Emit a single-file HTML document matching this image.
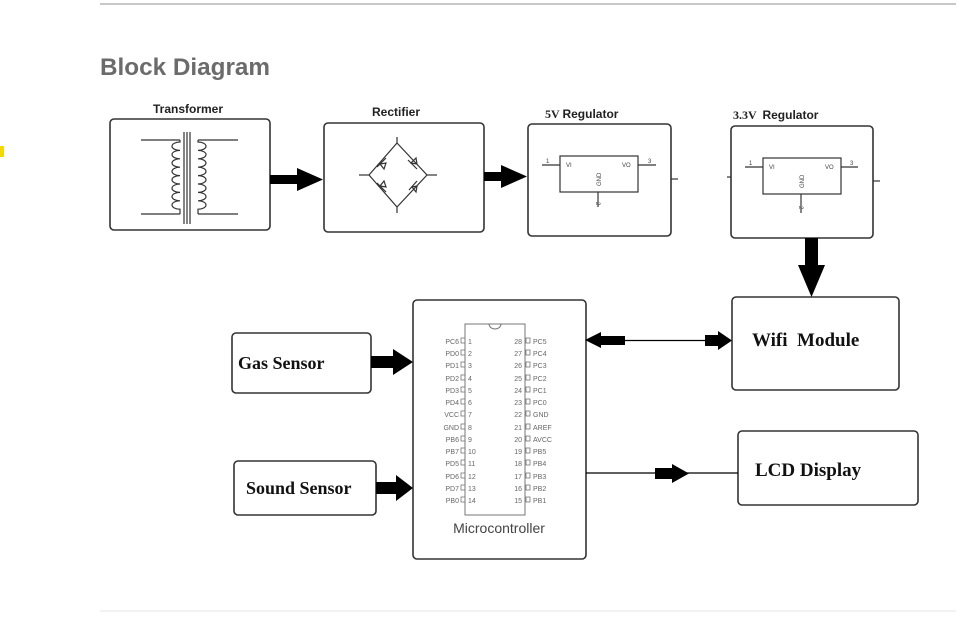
<!DOCTYPE html>
<html><head><meta charset="utf-8"><style>
html,body{margin:0;padding:0;background:#fff;}
svg{display:block;font-family:"Liberation Sans",sans-serif;}
</style></head><body>
<svg width="977" height="626" viewBox="0 0 977 626" xmlns="http://www.w3.org/2000/svg">
<line x1="100" y1="4" x2="956" y2="4" stroke="#c8c8c8" stroke-width="2"/>
<line x1="100" y1="611" x2="956" y2="611" stroke="#e6e6e6" stroke-width="1"/>
<rect x="0" y="146" width="4" height="11" fill="#f5d800"/>
<text x="100" y="75" font-size="24" font-weight="bold" fill="#6b6b6b" textLength="170" lengthAdjust="spacingAndGlyphs">Block Diagram</text>

<g fill="none" stroke="#333" stroke-width="1.6">
<rect x="110" y="119" width="160" height="111" rx="4"/>
<rect x="324" y="123" width="160" height="109" rx="4"/>
<rect x="528" y="124" width="143" height="112" rx="4"/>
<rect x="731" y="126" width="142" height="112" rx="4"/>
<rect x="732" y="297" width="167" height="93" rx="4"/>
<rect x="738" y="431" width="180" height="74" rx="4"/>
<rect x="413" y="300" width="173" height="259" rx="4"/>
<rect x="232" y="333" width="139" height="60" rx="4"/>
<rect x="234" y="461" width="142" height="54" rx="4"/>
</g>
<g font-weight="bold" fill="#222" font-size="12" text-anchor="middle">
<text x="188" y="113">Transformer</text>
<text x="396" y="116">Rectifier</text>
</g>
<text x="545" y="118" font-family="Liberation Serif,serif" font-weight="bold" font-size="12" fill="#222">5V <tspan font-family="Liberation Sans,sans-serif">Regulator</tspan></text>
<text x="733" y="119" font-family="Liberation Serif,serif" font-weight="bold" font-size="12" fill="#222">3.3V <tspan font-family="Liberation Sans,sans-serif" dx="3">Regulator</tspan></text>

<!-- transformer -->
<g fill="none" stroke="#333" stroke-width="1.2">
<line x1="141" y1="140" x2="180" y2="140"/><line x1="141" y1="214" x2="180" y2="214"/>
<line x1="198" y1="140" x2="238" y2="140"/><line x1="198" y1="214" x2="238" y2="214"/>
<path d="M180 140 l0 2 a8 4.2 0 0 0 0 8.4 a8 4.2 0 0 0 0 8.4 a8 4.2 0 0 0 0 8.4 a8 4.2 0 0 0 0 8.4 a8 4.2 0 0 0 0 8.4 a8 4.2 0 0 0 0 8.4 a8 4.2 0 0 0 0 8.4 a8 4.2 0 0 0 0 8.4 L180 214" transform="translate(0,0)"/>
<path d="M198 140 l0 2 a8 4.2 0 0 1 0 8.4 a8 4.2 0 0 1 0 8.4 a8 4.2 0 0 1 0 8.4 a8 4.2 0 0 1 0 8.4 a8 4.2 0 0 1 0 8.4 a8 4.2 0 0 1 0 8.4 a8 4.2 0 0 1 0 8.4 a8 4.2 0 0 1 0 8.4 L198 214"/>
<line x1="184" y1="132" x2="184" y2="224"/><line x1="187" y1="132" x2="187" y2="224"/><line x1="190" y1="132" x2="190" y2="224"/>
</g>
<!-- rectifier -->
<g fill="none" stroke="#333" stroke-width="1.2">
<path d="M397 143 L427 175 L397 207 L369 175 Z"/>
<line x1="397" y1="137" x2="397" y2="143"/><line x1="397" y1="207" x2="397" y2="213"/>
<line x1="359" y1="175" x2="369" y2="175"/><line x1="427" y1="175" x2="437" y2="175"/>
<path d="M380 164 l6 -1 l-2 6 z M377 167 l9 -9"/>
<path d="M411 163 l6 1 l-1 -6 z M408 160 l9 9"/>
<path d="M380 186 l6 1 l-2 -6 z M377 183 l9 9"/>
<path d="M412 187 l5 -1 l-1 6 z M409 190 l8 -9"/>
</g>
<!-- regulators -->
<g fill="none" stroke="#333" stroke-width="1.2">
<rect x="560" y="156" width="78" height="36"/>
<line x1="542" y1="165" x2="560" y2="165"/><line x1="638" y1="165" x2="656" y2="165"/><line x1="598" y1="192" x2="598" y2="207"/>
<rect x="763" y="158" width="78" height="36"/>
<line x1="745" y1="167" x2="763" y2="167"/><line x1="841" y1="167" x2="858" y2="167"/><line x1="801" y1="194" x2="801" y2="213"/>
<line x1="671" y1="179" x2="678" y2="179"/><line x1="873" y1="181" x2="880" y2="181"/><line x1="727" y1="177" x2="731" y2="177"/>
</g>
<g font-size="6" fill="#444">
<text x="546" y="163">1</text><text x="566" y="167">VI</text><text x="622" y="167">VO</text><text x="648" y="163">3</text>
<text x="601" y="186" transform="rotate(-90 601 186)">GND</text><text x="596" y="202" transform="rotate(90 596 202)">2</text>
<text x="749" y="165">1</text><text x="769" y="169">VI</text><text x="825" y="169">VO</text><text x="850" y="165">3</text>
<text x="804" y="188" transform="rotate(-90 804 188)">GND</text><text x="799" y="206" transform="rotate(90 799 206)">2</text>
</g>

<!-- arrows -->
<g fill="#000">
<rect x="270" y="175" width="28" height="9"/><path d="M297 168 L323 179.5 L297 191 Z"/>
<rect x="484" y="172" width="18" height="9"/><path d="M501 165 L527 176.5 L501 188 Z"/>
<rect x="805" y="238" width="13" height="28"/><path d="M798 265 L825 265 L811.5 297 Z"/>
<rect x="371" y="356" width="23" height="12"/><path d="M393 349 L413 362 L393 375 Z"/>
<rect x="376" y="482" width="21" height="12"/><path d="M396 475 L413 488 L396 501 Z"/>
<path d="M585 340 L601 332 L601 348 Z"/><rect x="600" y="336" width="25" height="9"/>
<rect x="705" y="335" width="14" height="11"/><path d="M718 331 L732 340.5 L718 350 Z"/>
<rect x="655" y="468" width="18" height="11"/><path d="M672 464 L689 473.5 L672 483 Z"/>
</g>
<line x1="600" y1="340.5" x2="720" y2="340.5" stroke="#000" stroke-width="1.2"/>
<line x1="586" y1="473" x2="738" y2="473" stroke="#000" stroke-width="1.2"/>

<g font-family="Liberation Serif,serif" font-weight="bold" fill="#111">
<text x="752" y="346" font-size="19">Wifi&#160; Module</text>
<text x="755" y="476" font-size="19">LCD Display</text>
<text x="238" y="369" font-size="18">Gas Sensor</text>
<text x="246" y="494" font-size="18">Sound Sensor</text>
</g>

<!-- chip -->
<rect x="465" y="324" width="60" height="191" fill="none" stroke="#777" stroke-width="1"/>
<path d="M489 324 a6 5 0 0 0 12 0" fill="none" stroke="#777"/>
<g font-size="7" fill="#666">
<g text-anchor="end">
<text x="459" y="344">PC6</text><text x="459" y="356">PD0</text><text x="459" y="368">PD1</text><text x="459" y="381">PD2</text><text x="459" y="393">PD3</text><text x="459" y="405">PD4</text><text x="459" y="417">VCC</text><text x="459" y="430">GND</text><text x="459" y="442">PB6</text><text x="459" y="454">PB7</text><text x="459" y="466">PD5</text><text x="459" y="479">PD6</text><text x="459" y="491">PD7</text><text x="459" y="503">PB0</text>
<text x="522" y="344">28</text><text x="522" y="356">27</text><text x="522" y="368">26</text><text x="522" y="381">25</text><text x="522" y="393">24</text><text x="522" y="405">23</text><text x="522" y="417">22</text><text x="522" y="430">21</text><text x="522" y="442">20</text><text x="522" y="454">19</text><text x="522" y="466">18</text><text x="522" y="479">17</text><text x="522" y="491">16</text><text x="522" y="503">15</text>
</g>
<text x="468" y="344">1</text><text x="468" y="356">2</text><text x="468" y="368">3</text><text x="468" y="381">4</text><text x="468" y="393">5</text><text x="468" y="405">6</text><text x="468" y="417">7</text><text x="468" y="430">8</text><text x="468" y="442">9</text><text x="468" y="454">10</text><text x="468" y="466">11</text><text x="468" y="479">12</text><text x="468" y="491">13</text><text x="468" y="503">14</text>
<text x="533" y="344">PC5</text><text x="533" y="356">PC4</text><text x="533" y="368">PC3</text><text x="533" y="381">PC2</text><text x="533" y="393">PC1</text><text x="533" y="405">PC0</text><text x="533" y="417">GND</text><text x="533" y="430">AREF</text><text x="533" y="442">AVCC</text><text x="533" y="454">PB5</text><text x="533" y="466">PB4</text><text x="533" y="479">PB3</text><text x="533" y="491">PB2</text><text x="533" y="503">PB1</text>
</g>
<g fill="none" stroke="#777" stroke-width="0.8">
<rect x="461" y="338" width="4" height="5"/><rect x="461" y="350" width="4" height="5"/><rect x="461" y="362" width="4" height="5"/><rect x="461" y="375" width="4" height="5"/><rect x="461" y="387" width="4" height="5"/><rect x="461" y="399" width="4" height="5"/><rect x="461" y="411" width="4" height="5"/><rect x="461" y="424" width="4" height="5"/><rect x="461" y="436" width="4" height="5"/><rect x="461" y="448" width="4" height="5"/><rect x="461" y="460" width="4" height="5"/><rect x="461" y="473" width="4" height="5"/><rect x="461" y="485" width="4" height="5"/><rect x="461" y="497" width="4" height="5"/>
<rect x="526" y="338" width="4" height="5"/><rect x="526" y="350" width="4" height="5"/><rect x="526" y="362" width="4" height="5"/><rect x="526" y="375" width="4" height="5"/><rect x="526" y="387" width="4" height="5"/><rect x="526" y="399" width="4" height="5"/><rect x="526" y="411" width="4" height="5"/><rect x="526" y="424" width="4" height="5"/><rect x="526" y="436" width="4" height="5"/><rect x="526" y="448" width="4" height="5"/><rect x="526" y="460" width="4" height="5"/><rect x="526" y="473" width="4" height="5"/><rect x="526" y="485" width="4" height="5"/><rect x="526" y="497" width="4" height="5"/>
</g>
<text x="499" y="533" font-size="14" fill="#444" text-anchor="middle">Microcontroller</text>
</svg>
</body></html>
